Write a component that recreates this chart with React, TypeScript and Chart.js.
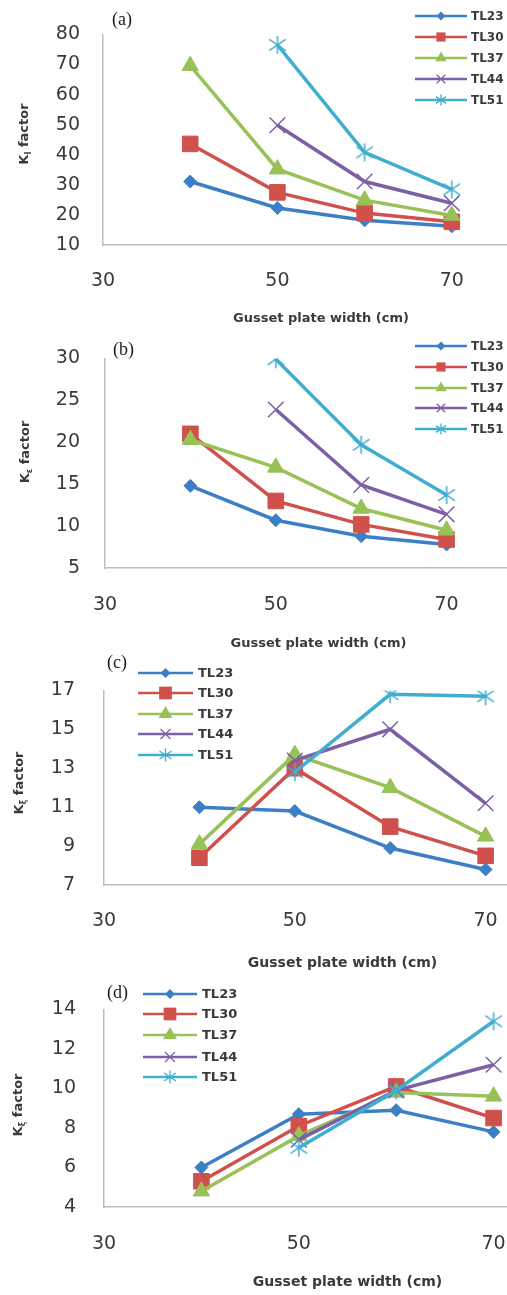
import React, { useEffect, useRef } from 'react';
import { Chart, registerables } from 'chart.js';

Chart.register(...registerables);

// ---------------- data ----------------
const X_VALUES = [40, 50, 60, 70];
const X_TICKS = [30, 50, 70];
const SERIES_NAMES = ['TL23', 'TL30', 'TL37', 'TL44', 'TL51'];

const A_Y_TICKS = [10, 20, 30, 40, 50, 60, 70, 80];
const A_TL23 = [31.1, 22.3, 18.2, 16.2];
const A_TL30 = [43.6, 27.5, 20.6, 17.7];
const A_TL37 = [69.6, 35.2, 24.9, 19.8];
const A_TL44 = [null, 49.8, 31.1, 23.9];
const A_TL51 = [null, 76.5, 40.8, 28.5];

const B_Y_TICKS = [5, 10, 15, 20, 25, 30];
const B_TL23 = [14.8, 10.7, 8.8, 7.8];
const B_TL30 = [21.0, 13.0, 10.2, 8.4];
const B_TL37 = [20.3, 17.0, 12.1, 9.5];
const B_TL44 = [null, 23.9, 14.9, 11.4];
const B_TL51 = [null, 29.9, 19.7, 13.7];

const C_Y_TICKS = [7, 9, 11, 13, 15, 17];
const C_TL23 = [11.0, 10.8, 8.9, 7.8];
const C_TL30 = [8.4, 13.0, 10.0, 8.5];
const C_TL37 = [9.1, 13.7, 12.0, 9.5];
const C_TL44 = [null, 13.4, 15.0, 11.2];
const C_TL51 = [null, 12.8, 16.8, 16.7];

const D_Y_TICKS = [4, 6, 8, 10, 12, 14];
const D_TL23 = [6.0, 8.7, 8.9, 7.8];
const D_TL30 = [5.3, 8.1, 10.1, 8.5];
const D_TL37 = [4.8, 7.6, 9.8, 9.6];
const D_TL44 = [null, 7.4, 9.9, 11.2];
const D_TL51 = [null, 7.0, 9.9, 13.4];

const X_TITLE = 'Gusset plate width (cm)';

// ---------------- styles ----------------
const SERIES_COLORS = ['#3c7fc5', '#d0504c', '#98c157', '#7b60a6', '#41aed0'];
const POINT_STYLES = ['rectRot', 'rect', 'triangle', 'crossRot', 'asterisk'];
const POINT_RADII = [6.5, 11, 9.5, 11, 9];
const POINT_BORDERS = [1, 1, 1, 1.5, 1.5];
const AXIS_COLOR = '#bdbdbd';
const TEXT_COLOR = '#3a3a3a';
const FONT = '"DejaVu Sans", Verdana, sans-serif';
const X_MIN = 30;
const X_MAX = 80;
const CANVAS_W = 620;

type PanelCfg = {
  tag: string; sub: string; top: number; height: number;
  left: number; right: number; areaTop: number; areaBottom: number;
  yTicks: number[]; series: (number | null)[][];
  yLabelPad: number; xLabelPad: number; tickSize: number;
  titleSize: number; titlePadBottom: number;
  yTitleX: number; yTitleY: number; yTitleSize: number;
  legX1: number; legX2: number; legTX: number; legYs: number[]; legSize: number; legMarker: number[];
  tagX: number; tagY: number;
};

const PANELS: PanelCfg[] = [
  {
    tag: '(a)', sub: 'I', top: 0, height: 335, left: 103, right: 539, areaTop: 18, areaBottom: 245,
    yTicks: A_Y_TICKS, series: [A_TL23, A_TL30, A_TL37, A_TL44, A_TL51],
    yLabelPad: 23, xLabelPad: 25, tickSize: 19, titleSize: 13, titlePadBottom: 9,
    yTitleX: 23, yTitleY: 134, yTitleSize: 13,
    legX1: 415, legX2: 467, legTX: 471, legYs: [16, 37, 58, 79, 100], legSize: 12, legMarker: [4.5, 6.5, 6.5, 6, 5.5],
    tagX: 112, tagY: 20,
  },
  {
    tag: '(b)', sub: 'ε', top: 322, height: 335, left: 105, right: 532, areaTop: 28, areaBottom: 246,
    yTicks: B_Y_TICKS, series: [B_TL23, B_TL30, B_TL37, B_TL44, B_TL51],
    yLabelPad: 25, xLabelPad: 26, tickSize: 19, titleSize: 13, titlePadBottom: 6,
    yTitleX: 24, yTitleY: 130, yTitleSize: 13,
    legX1: 415, legX2: 467, legTX: 471, legYs: [24, 45, 66, 86, 107], legSize: 12, legMarker: [4.5, 6.5, 6.5, 6, 5.5],
    tagX: 113, tagY: 28,
  },
  {
    tag: '(c)', sub: 'ξ', top: 650, height: 335, left: 104, right: 581, areaTop: 27, areaBottom: 235,
    yTicks: C_Y_TICKS, series: [C_TL23, C_TL30, C_TL37, C_TL44, C_TL51],
    yLabelPad: 29, xLabelPad: 25, tickSize: 19, titleSize: 14, titlePadBottom: 13,
    yTitleX: 18, yTitleY: 133, yTitleSize: 13,
    legX1: 138, legX2: 193, legTX: 198, legYs: [23, 43, 64, 84, 105], legSize: 13, legMarker: [5, 9, 8, 7, 6.5],
    tagX: 107, tagY: 13,
  },
  {
    tag: '(d)', sub: 'ξ', top: 970, height: 325, left: 104, right: 591, areaTop: 27, areaBottom: 237,
    yTicks: D_Y_TICKS, series: [D_TL23, D_TL30, D_TL37, D_TL44, D_TL51],
    yLabelPad: 28, xLabelPad: 26, tickSize: 19, titleSize: 14, titlePadBottom: 4,
    yTitleX: 17, yTitleY: 135, yTitleSize: 13,
    legX1: 143, legX2: 197, legTX: 202, legYs: [24, 44, 65, 87, 107], legSize: 13, legMarker: [5, 9, 8, 7, 6.5],
    tagX: 107, tagY: 23,
  },
];

function drawMarker(ctx: CanvasRenderingContext2D, style: string, x: number, y: number, r: number, color: string, lw: number) {
  ctx.save();
  ctx.fillStyle = color;
  ctx.strokeStyle = color;
  ctx.lineWidth = lw;
  ctx.beginPath();
  if (style === 'rectRot') {
    ctx.moveTo(x - r, y); ctx.lineTo(x, y - r); ctx.lineTo(x + r, y); ctx.lineTo(x, y + r); ctx.closePath(); ctx.fill();
  } else if (style === 'rect') {
    const s = r * Math.SQRT1_2;
    ctx.rect(x - s, y - s, 2 * s, 2 * s); ctx.fill();
  } else if (style === 'triangle') {
    ctx.moveTo(x, y - r); ctx.lineTo(x + 0.866 * r, y + 0.5 * r); ctx.lineTo(x - 0.866 * r, y + 0.5 * r); ctx.closePath(); ctx.fill();
  } else if (style === 'crossRot') {
    const d = r * Math.SQRT1_2;
    ctx.moveTo(x - d, y - d); ctx.lineTo(x + d, y + d); ctx.moveTo(x + d, y - d); ctx.lineTo(x - d, y + d); ctx.stroke();
  } else {
    // asterisk: vertical bar plus an X
    const dx = r * 0.92;
    const dy = r * 0.62;
    ctx.moveTo(x, y - r); ctx.lineTo(x, y + r);
    ctx.moveTo(x - dx, y - dy); ctx.lineTo(x + dx, y + dy);
    ctx.moveTo(x + dx, y - dy); ctx.lineTo(x - dx, y + dy);
    ctx.stroke();
  }
  ctx.restore();
}

function asteriskImage(r: number, color: string, lw: number): HTMLCanvasElement {
  const size = Math.ceil(2 * r + 4);
  const c = document.createElement('canvas');
  c.width = size;
  c.height = size;
  const ctx = c.getContext('2d') as CanvasRenderingContext2D;
  drawMarker(ctx, 'asterisk', size / 2, size / 2, r, color, lw);
  return c;
}

function makeDecorPlugin(p: PanelCfg) {
  return {
    id: 'panelDecor' + p.tag.replace(/[()]/g, ''),
    afterDraw(chart: any) {
      const ctx: CanvasRenderingContext2D = chart.ctx;
      // panel tag
      ctx.save();
      ctx.fillStyle = '#1a1a1a';
      ctx.font = '18px "Liberation Serif", "Times New Roman", serif';
      ctx.textAlign = 'left';
      ctx.textBaseline = 'middle';
      ctx.fillText(p.tag, p.tagX, p.tagY);
      ctx.restore();

      // y axis title with subscript
      ctx.save();
      ctx.translate(p.yTitleX, p.yTitleY);
      ctx.rotate(-Math.PI / 2);
      ctx.fillStyle = TEXT_COLOR;
      ctx.textBaseline = 'alphabetic';
      ctx.textAlign = 'left';
      const big = `bold ${p.yTitleSize}px ${FONT}`;
      const small = `bold ${Math.round(p.yTitleSize * 0.6)}px ${FONT}`;
      ctx.font = big;
      const wK = ctx.measureText('K').width;
      const wF = ctx.measureText(' factor').width;
      ctx.font = small;
      const wS = ctx.measureText(p.sub).width;
      let cx = -(wK + wS + wF) / 2;
      const base = p.yTitleSize * 0.36;
      ctx.font = big;
      ctx.fillText('K', cx, base);
      cx += wK;
      ctx.font = small;
      ctx.fillText(p.sub, cx, base + p.yTitleSize * 0.25);
      cx += wS;
      ctx.font = big;
      ctx.fillText(' factor', cx, base);
      ctx.restore();

      // legend
      chart.data.datasets.forEach((ds: any, i: number) => {
        const y = p.legYs[i];
        ctx.save();
        ctx.strokeStyle = ds.borderColor;
        ctx.lineWidth = 2.5;
        ctx.beginPath();
        ctx.moveTo(p.legX1, y);
        ctx.lineTo(p.legX2, y);
        ctx.stroke();
        ctx.restore();
        drawMarker(ctx, POINT_STYLES[i], (p.legX1 + p.legX2) / 2, y, p.legMarker[i], ds.borderColor, 1.3);
        ctx.save();
        ctx.fillStyle = TEXT_COLOR;
        ctx.font = `bold ${p.legSize}px ${FONT}`;
        ctx.textAlign = 'left';
        ctx.textBaseline = 'middle';
        ctx.fillText(ds.label, p.legTX, y + 1);
        ctx.restore();
      });
    },
  };
}

function Panel({ p }: { p: PanelCfg }) {
  const ref = useRef<HTMLCanvasElement | null>(null);
  useEffect(() => {
    if (!ref.current) return;
    const datasets = SERIES_NAMES.map((name, i) => ({
      label: name,
      data: X_VALUES.map((x, j) => ({ x, y: p.series[i][j] })),
      borderColor: SERIES_COLORS[i],
      backgroundColor: SERIES_COLORS[i],
      pointBackgroundColor: SERIES_COLORS[i],
      pointBorderColor: SERIES_COLORS[i],
      pointStyle:
        POINT_STYLES[i] === 'asterisk'
          ? asteriskImage(POINT_RADII[i], SERIES_COLORS[i], POINT_BORDERS[i])
          : POINT_STYLES[i],
      pointRadius: POINT_RADII[i],
      pointBorderWidth: POINT_BORDERS[i],
      borderWidth: 3.5,
      tension: 0,
      fill: false,
      order: SERIES_NAMES.length - i,
    }));
    const chart = new Chart(ref.current, {
      type: 'line',
      data: { datasets } as any,
      options: {
        animation: false,
        responsive: false,
        devicePixelRatio: 1,
        layout: { padding: { top: p.areaTop, right: CANVAS_W - p.right, bottom: 0, left: 0 } },
        plugins: { legend: { display: false }, tooltip: { enabled: false } },
        scales: {
          x: {
            type: 'linear',
            min: X_MIN,
            max: X_MAX,
            grid: { display: false, drawTicks: false },
            border: { display: true, color: AXIS_COLOR, width: 1.5 },
            afterBuildTicks: (s: any) => { s.ticks = X_TICKS.map((v) => ({ value: v })); },
            afterFit: (s: any) => { s.height = p.height - p.areaBottom; },
            ticks: {
              padding: p.xLabelPad,
              color: TEXT_COLOR,
              font: { family: FONT, size: p.tickSize },
              maxRotation: 0,
              autoSkip: false,
            },
            title: {
              display: true,
              text: X_TITLE,
              color: TEXT_COLOR,
              font: { family: FONT, size: p.titleSize, weight: 'bold' },
              padding: { top: 0, bottom: p.titlePadBottom },
            },
          },
          y: {
            type: 'linear',
            min: p.yTicks[0],
            max: p.yTicks[p.yTicks.length - 1],
            grid: { display: false, drawTicks: false },
            border: { display: true, color: AXIS_COLOR, width: 1.5 },
            afterBuildTicks: (s: any) => { s.ticks = p.yTicks.map((v) => ({ value: v })); },
            afterFit: (s: any) => { s.width = p.left; },
            ticks: {
              padding: p.yLabelPad,
              color: TEXT_COLOR,
              font: { family: FONT, size: p.tickSize },
              autoSkip: false,
            },
          },
        },
      } as any,
      plugins: [makeDecorPlugin(p)],
    });
    return () => chart.destroy();
  }, [p]);
  return (
    <canvas
      ref={ref}
      width={CANVAS_W}
      height={p.height}
      style={{ position: 'absolute', left: 0, top: p.top, width: CANVAS_W, height: p.height }}
    />
  );
}

export default function App() {
  return (
    <div
      style={{
        position: 'absolute',
        left: 0,
        top: 0,
        width: 507,
        height: 1295,
        overflow: 'hidden',
        background: '#ffffff',
      }}
    >
      {PANELS.map((p) => (
        <Panel key={p.tag} p={p} />
      ))}
    </div>
  );
}
